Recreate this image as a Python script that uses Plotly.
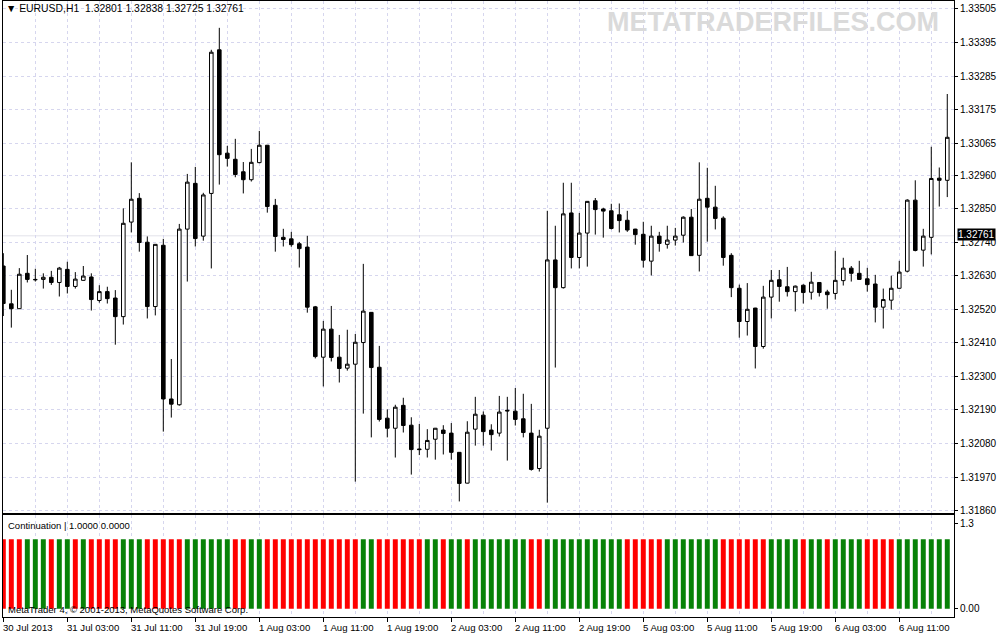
import pandas as pd
import plotly.graph_objects as go

# ---------------- data ----------------
bar_times = [t.strftime("%Y-%m-%d %H:%M") for t in
             list(pd.date_range("2013-07-30 19:00", "2013-08-02 23:00", freq="h")) +
             list(pd.date_range("2013-08-05 00:00", "2013-08-06 17:00", freq="h"))]

opens = [1.32662, 1.32538, 1.32522, 1.32638, 1.32618, 1.32618, 1.32625, 1.32608, 1.32651, 1.32595,
         1.32615, 1.32626, 1.32549, 1.32578, 1.32557, 1.32496, 1.32806, 1.32884, 1.32740, 1.32529,
         1.32730, 1.32226, 1.32207, 1.32783, 1.32933, 1.32760, 1.32900, 1.33371, 1.33032, 1.33012,
         1.32971, 1.32945, 1.33001, 1.33058, 1.32861, 1.32756, 1.32751, 1.32735, 1.32724, 1.32528,
         1.32363, 1.32455, 1.32363, 1.32327, 1.32340, 1.32411, 1.32510, 1.32330, 1.32163, 1.32130,
         1.32205, 1.32140, 1.32062, 1.32061, 1.32094, 1.32124, 1.32114, 1.32051, 1.31950, 1.32127,
         1.32173, 1.32124, 1.32114, 1.32189, 1.32186, 1.32161, 1.32114, 1.31998, 1.32130, 1.32682,
         1.32591, 1.32836, 1.32690, 1.32770, 1.32876, 1.32849, 1.32843, 1.32830, 1.32812, 1.32783,
         1.32766, 1.32678, 1.32760, 1.32733, 1.32747, 1.32763, 1.32822, 1.32697, 1.32884, 1.32855,
         1.32819, 1.32697, 1.32589, 1.32480, 1.32524, 1.32398, 1.32560, 1.32617, 1.32594, 1.32578,
         1.32599, 1.32576, 1.32608, 1.32577, 1.32572, 1.32614, 1.32655, 1.32638, 1.32620, 1.32603,
         1.32527, 1.32550, 1.32589, 1.32645, 1.32878, 1.32714, 1.32756, 1.32950, 1.32943]
highs = [1.32704, 1.32584, 1.32655, 1.32698, 1.32653, 1.32638, 1.32646, 1.32659, 1.32676, 1.32642,
         1.32662, 1.32638, 1.32599, 1.32594, 1.32583, 1.32851, 1.33002, 1.32901, 1.32759, 1.32734,
         1.32751, 1.32357, 1.32800, 1.32964, 1.32987, 1.32902, 1.33371, 1.33443, 1.33056, 1.33079,
         1.33003, 1.33046, 1.33105, 1.33059, 1.32882, 1.32784, 1.32774, 1.32741, 1.32761, 1.32531,
         1.32482, 1.32531, 1.32436, 1.32453, 1.32439, 1.32669, 1.32511, 1.32400, 1.32192, 1.32207,
         1.32230, 1.32166, 1.32144, 1.32127, 1.32131, 1.32140, 1.32147, 1.32052, 1.32153, 1.32233,
         1.32185, 1.32143, 1.32236, 1.32233, 1.32262, 1.32243, 1.32210, 1.32125, 1.32843, 1.32794,
         1.32935, 1.32935, 1.32836, 1.32875, 1.32885, 1.32853, 1.32866, 1.32867, 1.32843, 1.32784,
         1.32807, 1.32794, 1.32774, 1.32794, 1.32787, 1.32825, 1.32849, 1.33002, 1.32984, 1.32925,
         1.32825, 1.32704, 1.32601, 1.32606, 1.32525, 1.32597, 1.32649, 1.32649, 1.32659, 1.32598,
         1.32602, 1.32643, 1.32609, 1.32584, 1.32712, 1.32689, 1.32662, 1.32679, 1.32656, 1.32633,
         1.32588, 1.32630, 1.32679, 1.32881, 1.32943, 1.32784, 1.33053, 1.32985, 1.33226]
lows = [1.32498, 1.32460, 1.32521, 1.32608, 1.32611, 1.32588, 1.32600, 1.32562, 1.32572, 1.32588,
        1.32614, 1.32516, 1.32542, 1.32539, 1.32404, 1.32470, 1.32772, 1.32709, 1.32490, 1.32500,
        1.32119, 1.32165, 1.32204, 1.32611, 1.32726, 1.32745, 1.32654, 1.32929, 1.32988, 1.32953,
        1.32900, 1.32939, 1.32999, 1.32837, 1.32709, 1.32726, 1.32725, 1.32657, 1.32509, 1.32359,
        1.32267, 1.32349, 1.32280, 1.32319, 1.31955, 1.32178, 1.32100, 1.32152, 1.32100, 1.32034,
        1.32116, 1.31978, 1.32042, 1.32034, 1.32027, 1.32044, 1.32027, 1.31890, 1.31949, 1.32073,
        1.32073, 1.32057, 1.32103, 1.32024, 1.32139, 1.32100, 1.31991, 1.31988, 1.31886, 1.32329,
        1.32588, 1.32654, 1.32654, 1.32660, 1.32765, 1.32755, 1.32782, 1.32772, 1.32774, 1.32732,
        1.32657, 1.32631, 1.32709, 1.32719, 1.32729, 1.32739, 1.32695, 1.32644, 1.32742, 1.32782,
        1.32663, 1.32560, 1.32427, 1.32434, 1.32326, 1.32391, 1.32490, 1.32545, 1.32562, 1.32513,
        1.32539, 1.32552, 1.32562, 1.32522, 1.32552, 1.32598, 1.32611, 1.32617, 1.32578, 1.32477,
        1.32457, 1.32519, 1.32588, 1.32641, 1.32710, 1.32660, 1.32700, 1.32857, 1.32888]
closes = [1.32539, 1.32522, 1.32635, 1.32618, 1.32617, 1.32625, 1.32608, 1.32655, 1.32595, 1.32619,
          1.32629, 1.32552, 1.32578, 1.32555, 1.32496, 1.32802, 1.32881, 1.32739, 1.32529, 1.32733,
          1.32226, 1.32209, 1.32783, 1.32937, 1.32752, 1.32895, 1.33363, 1.33027, 1.33015, 1.32962,
          1.32945, 1.33002, 1.33058, 1.32857, 1.32759, 1.32749, 1.32732, 1.32719, 1.32527, 1.32365,
          1.32455, 1.32362, 1.32326, 1.32340, 1.32412, 1.32514, 1.32329, 1.32159, 1.32130, 1.32199,
          1.32139, 1.32060, 1.32060, 1.32090, 1.32130, 1.32113, 1.32051, 1.31949, 1.32117, 1.32176,
          1.32119, 1.32109, 1.32183, 1.32187, 1.32159, 1.32116, 1.31995, 1.32104, 1.32682, 1.32591,
          1.32833, 1.32690, 1.32770, 1.32874, 1.32847, 1.32842, 1.32785, 1.32811, 1.32780, 1.32765,
          1.32681, 1.32760, 1.32736, 1.32747, 1.32760, 1.32822, 1.32696, 1.32881, 1.32855, 1.32818,
          1.32690, 1.32591, 1.32480, 1.32520, 1.32398, 1.32560, 1.32615, 1.32595, 1.32578, 1.32596,
          1.32575, 1.32609, 1.32575, 1.32568, 1.32615, 1.32655, 1.32638, 1.32618, 1.32601, 1.32527,
          1.32552, 1.32589, 1.32642, 1.32878, 1.32713, 1.32760, 1.32949, 1.32943, 1.33084]

# Continuation indicator buffers (1 = bar drawn in that colour)
green_buffer = [0, 0, 0, 1, 1, 1, 0, 1, 1, 0, 1, 0, 0, 0, 0, 1, 1, 1, 0, 0,
                0, 0, 0, 1, 1, 1, 1, 1, 1, 0, 0, 1, 1, 0, 0, 0, 0, 0, 0, 0,
                0, 0, 0, 0, 0, 1, 1, 0, 0, 0, 0, 0, 0, 1, 1, 0, 1, 1, 0, 1,
                1, 1, 1, 1, 1, 1, 0, 0, 1, 1, 1, 1, 1, 1, 1, 1, 1, 1, 0, 0,
                0, 0, 0, 1, 1, 1, 1, 1, 1, 1, 0, 0, 0, 0, 0, 0, 1, 1, 1, 1,
                0, 1, 1, 0, 1, 1, 1, 1, 0, 0, 0, 0, 1, 1, 1, 1, 1, 1, 1]
red_buffer = [1, 1, 1, 0, 0, 0, 1, 0, 0, 1, 0, 1, 1, 1, 1, 0, 0, 0, 1, 1,
              1, 1, 1, 0, 0, 0, 0, 0, 0, 1, 1, 0, 0, 1, 1, 1, 1, 1, 1, 1,
              1, 1, 1, 1, 1, 0, 0, 1, 1, 1, 1, 1, 1, 0, 0, 1, 0, 0, 1, 0,
              0, 0, 0, 0, 0, 0, 1, 1, 0, 0, 0, 0, 0, 0, 0, 0, 0, 0, 1, 1,
              1, 1, 1, 0, 0, 0, 0, 0, 0, 0, 1, 1, 1, 1, 1, 1, 0, 0, 0, 0,
              1, 0, 0, 1, 0, 0, 0, 0, 1, 1, 1, 1, 0, 0, 0, 0, 0, 0, 0]

price_ticks = [1.33505, 1.33395, 1.33285, 1.33175, 1.33065, 1.32960, 1.32850, 1.32740,
               1.32630, 1.32520, 1.32410, 1.32300, 1.32190, 1.32080, 1.31970, 1.31860]
price_tick_labels = ["1.33505", "1.33395", "1.33285", "1.33175", "1.33065", "1.32960", "1.32850",
                     "1.32740", "1.32630", "1.32520", "1.32410", "1.32300", "1.32190", "1.32080",
                     "1.31970", "1.31860"]
time_tick_labels = ["30 Jul 2013", "31 Jul 03:00", "31 Jul 11:00", "31 Jul 19:00", "1 Aug 03:00",
                    "1 Aug 11:00", "1 Aug 19:00", "2 Aug 03:00", "2 Aug 11:00", "2 Aug 19:00",
                    "5 Aug 03:00", "5 Aug 11:00", "5 Aug 19:00", "6 Aug 03:00", "6 Aug 11:00"]
bid_price = 1.32761
header_text = "▼ EURUSD,H1  1.32801 1.32838 1.32725 1.32761"
indicator_text = "Continuation | 1.0000 0.0000"
copyright_text = "MetaTrader 4, © 2001-2013, MetaQuotes Software Corp."
watermark_text = "METATRADERFILES.COM"

# ---------------- figure ----------------
FONT = "Liberation Sans, Arial, sans-serif"
GRID = "#D6D6EE"
idx = list(range(len(bar_times)))
label_pos = idx[::8]

fig = go.Figure()
fig.add_trace(go.Candlestick(
    x=idx, open=opens, high=highs, low=lows, close=closes,
    increasing=dict(line=dict(color="black", width=1), fillcolor="white"),
    decreasing=dict(line=dict(color="black", width=1), fillcolor="black"),
    whiskerwidth=0, hovertext=bar_times, showlegend=False,
    xaxis="x", yaxis="y"))
fig.add_trace(go.Bar(x=idx, y=green_buffer, marker=dict(color="#078207", line=dict(width=0)),
                     width=0.62, xaxis="x2", yaxis="y2", showlegend=False, hoverinfo="skip"))
fig.add_trace(go.Bar(x=idx, y=red_buffer, marker=dict(color="#FF0000", line=dict(width=0)),
                     width=0.62, xaxis="x2", yaxis="y2", showlegend=False, hoverinfo="skip"))

annotations = [
    dict(text=header_text, xref="paper", yref="paper", x=0, y=1, xanchor="left", yanchor="top",
         xshift=1, yshift=0, showarrow=False, font=dict(family=FONT, size=10.4, color="black")),
    dict(text="<b>" + watermark_text + "</b>", xref="paper", yref="paper", x=0.982, y=1,
         xanchor="right", yanchor="top", xshift=4, yshift=-4, showarrow=False,
         font=dict(family=FONT, size=27, color="#DADADA")),
    dict(text=indicator_text, xref="paper", yref="y2 domain", x=0, y=1, xanchor="left",
         yanchor="top", xshift=3, yshift=-3, showarrow=False,
         font=dict(family=FONT, size=9.5, color="black")),
    dict(text=copyright_text, xref="paper", yref="y2 domain", x=0, y=0, xanchor="left",
         yanchor="bottom", xshift=3, yshift=0, showarrow=False,
         font=dict(family=FONT, size=9.5, color="black")),
    dict(text=f"{bid_price:.5f}", xref="paper", yref="y", x=1, y=bid_price, xanchor="left",
         yanchor="middle", xshift=3, yshift=1, showarrow=False, bgcolor="black", borderpad=0,
         font=dict(family=FONT, size=10, color="white")),
]
for p, lab in zip(label_pos, time_tick_labels):
    annotations.append(dict(text=lab, xref="x2", yref="paper", x=p, y=0, xanchor="left",
                            yanchor="top", xshift=-2, yshift=-3, showarrow=False,
                            font=dict(family=FONT, size=9.6, color="black")))

fig.update_layout(
    width=997, height=635,
    margin=dict(l=3, r=43, t=1, b=18),
    paper_bgcolor="white", plot_bgcolor="white",
    boxgap=0.36, bargap=0.38, barmode="overlay",
    font=dict(family=FONT, size=10, color="black"),
    hovermode=False,
    xaxis=dict(domain=[0, 1], anchor="y", range=[-0.04, 118.84], rangeslider=dict(visible=False),
               tickmode="array", tickvals=idx[::4], showticklabels=False, ticks="",
               showgrid=True, gridcolor=GRID, griddash="3px,3px", gridwidth=1, zeroline=False,
               showline=True, mirror=True, linecolor="black", linewidth=1),
    xaxis2=dict(domain=[0, 1], anchor="y2", matches="x", range=[-0.04, 118.84],
                tickmode="array", tickvals=label_pos, showticklabels=False,
                ticks="outside", ticklen=4, tickcolor="black", tickwidth=1,
                showgrid=True, gridcolor=GRID, griddash="3px,3px", zeroline=False,
                minor=dict(tickmode="array", tickvals=idx[::4], showgrid=True, gridcolor=GRID,
                           griddash="3px,3px", ticks=""),
                showline=True, mirror=True, linecolor="black", linewidth=1),
    yaxis=dict(domain=[0.1688, 1], anchor="x", range=[1.31852, 1.33531], side="right",
               tickmode="array", tickvals=price_ticks, ticktext=price_tick_labels,
               ticks="outside", ticklen=3, tickcolor="black",
               showgrid=True, gridcolor=GRID, griddash="3px,3px", zeroline=False,
               showline=True, mirror=True, linecolor="black", linewidth=1,
               tickfont=dict(family=FONT, size=10, color="black")),
    yaxis2=dict(domain=[0, 0.1648], anchor="x2", range=[-0.12, 1.343], side="right",
                tickmode="array", tickvals=[0, 1.225], ticktext=["0.00", "1.3"],
                ticks="outside", ticklen=3, tickcolor="black",
                showgrid=False, zeroline=False,
                showline=True, mirror=True, linecolor="black", linewidth=1,
                tickfont=dict(family=FONT, size=10, color="black")),
    shapes=[dict(type="line", xref="paper", yref="y", x0=0, x1=1, y0=bid_price, y1=bid_price,
                 line=dict(color="#E2E2EA", width=1), layer="below")],
    annotations=annotations,
)

fig.write_html("out.html", config={"displayModeBar": False},
               post_script="document.body.style.margin='0px';document.body.style.padding='0px';")
